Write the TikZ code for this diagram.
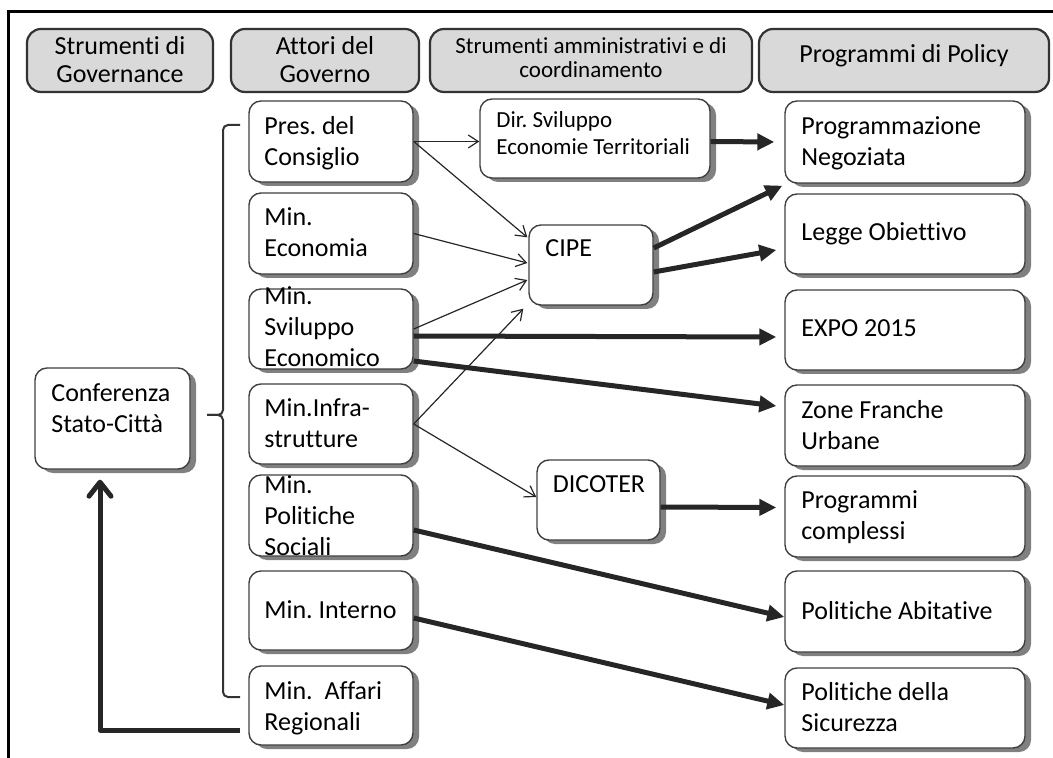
\documentclass[tikz,border=0pt]{standalone}
\usepackage{fontspec}
\setmainfont{Carlito}[Ligatures={NoCommon}]
\frenchspacing
\usetikzlibrary{arrows.meta,shadows}
\newcommand\mkbox[6]{\node[#1, minimum width={(#5-#3)*0.5pt}, minimum height={(#6-#4)*0.5pt}] (#2) at ({(#3+#5)/2},{(#4+#6)/2}) {};}
\begin{document}
\begin{tikzpicture}[x=0.5pt,y=-0.5pt,
  box/.style={draw=black!75, line width=0.7pt, fill=white, rounded corners=6pt, inner sep=0pt,
    drop shadow={shadow xshift=3pt, shadow yshift=-2pt, fill=black!50, opacity=1}},
  hdr/.style={draw=black!80, line width=1.1pt, fill=black!15, rounded corners=7pt, inner sep=0pt},
  lbl/.style={inner sep=0pt, anchor=base west, align=flush left, text width=125pt, font=\fontsize{13pt}{15.5pt}\selectfont},
  slbl/.style={inner sep=0pt, anchor=base west, align=flush left, text width=125pt, font=\fontsize{11.5pt}{13.5pt}\selectfont},
  clbl/.style={inner sep=0pt, anchor=base, align=flush center, text width=160pt, font=\fontsize{13pt}{14pt}\selectfont},
  sclbl/.style={inner sep=0pt, anchor=base, align=flush center, text width=160pt, font=\fontsize{11.5pt}{12pt}\selectfont},
  thinarrow/.style={draw=black!85, line width=0.6pt, -{Straight Barb[length=5pt,width=6.5pt]}},
  thickarrow/.style={draw=black!85, line width=2.5pt, -{Triangle[length=8.5pt,width=8pt]}},
  bracketline/.style={draw=black!80, line width=1pt, rounded corners=2.5pt}
]
\useasboundingbox (0,0) rectangle (1053,758);
% frame
\draw[line width=1.5pt] (1053,12) -- (8,12) -- (8,758);

% headers
\mkbox{hdr}{h1}{27}{29}{213}{92}
\mkbox{hdr}{h2}{231}{29}{419}{92}
\mkbox{hdr}{h3}{430}{29}{752}{92}
\mkbox{hdr}{h4}{759}{29}{1049}{92}
\node[clbl] (h1-t) at (120,55) {Strumenti di\\Governance};
\node[clbl] (h2-t) at (325,55) {Attori del\\Governo};
\node[sclbl] (h3-t) at (591,54) {Strumenti amministrativi e di\\coordinamento};
\node[clbl] (h4-t) at (904,63) {Programmi di Policy};

% actor boxes
\mkbox{box}{pres}{249}{101}{413}{182}
\mkbox{box}{econ}{249}{193}{413}{274}
\mkbox{box}{svil}{249}{289}{413}{369}
\mkbox{box}{infra}{249}{384}{413}{464}
\mkbox{box}{pol}{249}{475}{413}{556}
\mkbox{box}{int}{249}{571}{413}{650}
\mkbox{box}{aff}{249}{666}{413}{745}
\mkbox{box}{conf}{35}{368}{190}{469}
\mkbox{box}{dir}{480}{99}{710}{178}
\mkbox{box}{cipe}{529}{225}{653}{305}
\mkbox{box}{dicoter}{537}{460}{660}{540}
% policy boxes
\mkbox{box}{progneg}{785}{101}{1025}{183}
\mkbox{box}{legge}{785}{194}{1025}{274}
\mkbox{box}{expo}{785}{290}{1025}{370}
\mkbox{box}{zone}{785}{385}{1025}{466}
\mkbox{box}{progcomp}{785}{476}{1025}{557}
\mkbox{box}{abit}{785}{571}{1025}{652}
\mkbox{box}{sic}{785}{668}{1025}{748}

% texts
\node[lbl] (pres-t) at (264,135) {Pres. del\\Consiglio};
\node[lbl] (econ-t) at (264,226) {Min.\\Economia};
\node[lbl] (svil-t) at (264,305) {Min.\\Sviluppo\\Economico};
\node[lbl] (infra-t) at (264,416.5) {Min.Infra-\\strutture};
\node[lbl] (pol-t) at (264,493) {Min.\\Politiche\\Sociali};
\node[lbl] (int-t) at (264,618) {Min. Interno};
\node[lbl] (aff-t) at (264,699) {Min.\ \ Affari\\Regionali};
\node[lbl] (conf-t) at (51,401) {Conferenza\\Stato-Città};
\node[slbl] (dir-t) at (496,128) {Dir. Sviluppo\\Economie Territoriali};
\node[lbl] (cipe-t) at (545,257) {CIPE};
\node[clbl] (dicoter-t) at (599,492.5) {DICOTER};
\node[lbl] (progneg-t) at (801,135) {Programmazione\\Negoziata};
\node[lbl] (legge-t) at (801,241) {Legge Obiettivo};
\node[lbl] (expo-t) at (801,337) {EXPO 2015};
\node[lbl] (zone-t) at (801,418) {Zone Franche\\Urbane};
\node[lbl] (progcomp-t) at (801,508.5) {Programmi\\complessi};
\node[lbl] (abit-t) at (801,619) {Politiche Abitative};
\node[lbl] (sic-t) at (801,700) {Politiche della\\Sicurezza};

% bracket
\draw[bracketline] (240,125) -- (223,125) -- (223,415) -- (207,415);
\draw[bracketline] (207,415) -- (223,415) -- (223,697) -- (240,697);

% thin arrows
\draw[thinarrow] (pres.east) -- (dir.west |- pres.east);
\draw[thinarrow] (pres.east) -- ([shift={(-1,13)}]cipe.north west);
\draw[thinarrow] (econ.east) -- ([shift={(-1,-2)}]cipe.west);
\draw[thinarrow] (svil.east) -- ([shift={(-1,15)}]cipe.west);
\draw[thinarrow] (infra.east) -- ([shift={(-5,3)}]cipe.south west);
\draw[thinarrow] (infra.east) -- ([shift={(0,-3)}]dicoter.west);

% thick arrows
\draw[thickarrow] ([shift={(0,3)}]dir.east) -- ([shift={(-10,0)}]progneg.west);
\draw[thickarrow] ([shift={(0,-17)}]cipe.east) -- ([shift={(-2,2)}]progneg.south west);
\draw[thickarrow] ([shift={(0,7)}]cipe.east) -- ([shift={(-8,16)}]legge.west);
\draw[thickarrow] ([shift={(0,7)}]svil.east) -- ([shift={(-8,7)}]expo.west);
\draw[thickarrow] ([shift={(0,32)}]svil.east) -- ([shift={(-8,-19.5)}]zone.west);
\draw[thickarrow] ([shift={(0,7)}]dicoter.east) -- ([shift={(-8,-9)}]progcomp.west);
\draw[thickarrow] ([shift={(0,14.5)}]pol.east) -- ([shift={(0,5.5)}]abit.west);
\draw[thickarrow] ([shift={(0,7.5)}]int.east) -- ([shift={(0,-3)}]sic.west);

% return arrow
\coordinate (aff-out) at ([shift={(-8,24.5)}]aff.west);
\coordinate (conf-in) at ([shift={(-12.5,10)}]conf.south);
\draw[draw=black!85, line width=2.5pt, line join=round,
  -{Straight Barb[length=7pt,width=11pt,line cap=round,line join=round]}] (aff-out) -| (conf-in);
\end{tikzpicture}
\end{document}
